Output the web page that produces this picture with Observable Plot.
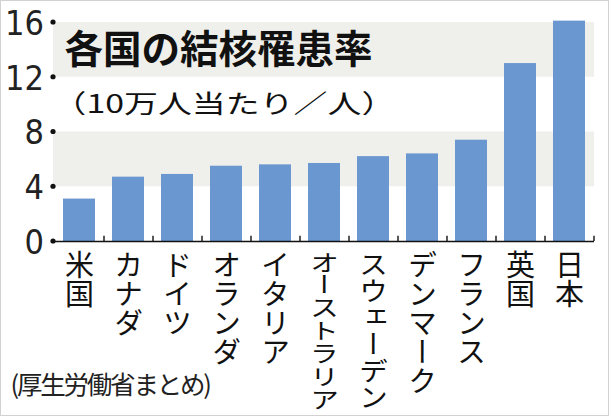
<!DOCTYPE html>
<html>
<head>
<meta charset="utf-8">
<script src="https://cdn.jsdelivr.net/npm/d3@7"></script>
<script src="https://cdn.jsdelivr.net/npm/@observablehq/plot@0.6"></script>
<style>
  html, body { margin: 0; padding: 0; background: #fff; }
  #wrap { position: relative; width: 611px; height: 417px; overflow: hidden; }
  #wrap svg { display: block; }
  #border { position: absolute; left: 0; top: 0; width: 607px; height: 414px; border: 1px solid #d2d2d2; pointer-events: none; }
</style>
</head>
<body>
<div id="wrap"><div id="border"></div></div>
<script>
const countries = ["米国", "カナダ", "ドイツ", "オランダ", "イタリア", "オーストラリア", "スウェーデン", "デンマーク", "フランス", "英国", "日本"];
const rates = [3.1, 4.7, 4.9, 5.5, 5.6, 5.7, 6.2, 6.4, 7.4, 13.0, 16.1];
const yTicks = [0, 4, 8, 12, 16];
const shadedBands = [[4, 8], [12, 16]];
const titleText = ["各国の結核罹患率"];
const subtitleText = ["（10万人当たり／人）"];
const sourceText = ["(厚生労働省まとめ)"];

const data = countries.map((c, i) => ({country: c, rate: rates[i]}));

const jp = "'Noto Sans CJK JP', 'Noto Sans', sans-serif";
const labelSize = 29;
const maxLabelLength = 160;

function boundaryTicks(index, scales, values, dimensions, context, next) {
  const X = values.x;
  const step = X[1] - X[0];
  const X2 = Array.from(X, v => v + step / 2);
  return next(index, scales, {...values, x: X2}, dimensions, context);
}

// small filled circles at each y tick, on the left edge of the frame
function tickDots(index, scales, values, dimensions) {
  const g = d3.create("svg:g");
  for (const i of index) {
    g.append("circle")
      .attr("cx", dimensions.marginLeft)
      .attr("cy", values.y[i])
      .attr("r", 2.6)
      .attr("fill", "#111");
  }
  return g.node();
}

function verticalLabels(index, scales, values, dimensions, context, next) {
  const g = next(index, scales, values, dimensions, context);
  d3.select(g).selectAll("text").each(function (_, j) {
    const i = index[j];
    const n = [...countries[i]].length;
    const k = Math.min(1, maxLabelLength / (n * labelSize));
    this.style.writingMode = "vertical-rl";
    this.style.textOrientation = "mixed";
    if (k < 1) {
      const t = this.getAttribute("transform");
      if (t) this.setAttribute("transform", t + ` scale(1,${k})`);
    }
  });
  return g;
}

function stretchX(sx, spacing) {
  return function (index, scales, values, dimensions, context, next) {
    const g = next(index, scales, values, dimensions, context);
    d3.select(g).selectAll("text").each(function () {
      const t = this.getAttribute("transform") || "";
      if (sx !== 1) this.setAttribute("transform", t + ` scale(${sx},1)`);
      if (spacing) this.style.letterSpacing = spacing + "px";
    });
    return g;
  };
}

const chart = Plot.plot({
  width: 611,
  height: 417,
  marginTop: 22,
  marginBottom: 176,
  marginLeft: 53,
  marginRight: 17,
  x: {domain: countries, paddingInner: 0.35, paddingOuter: 0.175, axis: null},
  y: {domain: [0, 16], axis: null},
  marks: [
    Plot.rectY(shadedBands, {y1: d => d[0], y2: d => d[1], fill: "#efefeb"}),
    Plot.barY(data, {x: "country", y: "rate", fill: "#6a97cf"}),
    Plot.ruleY([0], {stroke: "#111", strokeWidth: 1.6}),
    Plot.ruleX(countries, {x: d => d, y1: 0, y2: 0.38, stroke: "#111", strokeWidth: 1.4, render: boundaryTicks}),
    Plot.text(yTicks, {y: d => d, text: () => "•", frameAnchor: "left", render: tickDots}),
    Plot.text(yTicks, {y: d => d, text: d => String(d), frameAnchor: "left", textAnchor: "end", dx: -9.5, dy: 1.5, fontSize: 34, fontFamily: "'Liberation Sans Narrow', 'DejaVu Sans Condensed', 'Liberation Sans', sans-serif", fill: "#222"}),
    Plot.text(titleText, {text: d => d, frameAnchor: "top-left", textAnchor: "start", lineAnchor: "middle", dx: 11, dy: 28, fontSize: 38.5, fontWeight: "bold", fontFamily: jp, fill: "#111"}),
    Plot.text(subtitleText, {text: d => d, frameAnchor: "top-left", textAnchor: "start", lineAnchor: "middle", dx: -1, dy: 82, fontSize: 25.5, fontFamily: jp, fill: "#111", render: stretchX(1.33, 0)}),
    Plot.text(countries, {x: d => d, text: d => d, frameAnchor: "bottom", textAnchor: "start", lineAnchor: "bottom", dy: 9, fontSize: labelSize, fontFamily: jp, fill: "#111", render: verticalLabels}),
    Plot.text(sourceText, {text: d => d, frameAnchor: "bottom-left", textAnchor: "start", lineAnchor: "middle", dx: -43, dy: 144, fontSize: 25.5, fontFamily: jp, fill: "#222", render: stretchX(1, -2.2)})
  ]
});

document.getElementById("wrap").prepend(chart);
</script>
</body>
</html>
